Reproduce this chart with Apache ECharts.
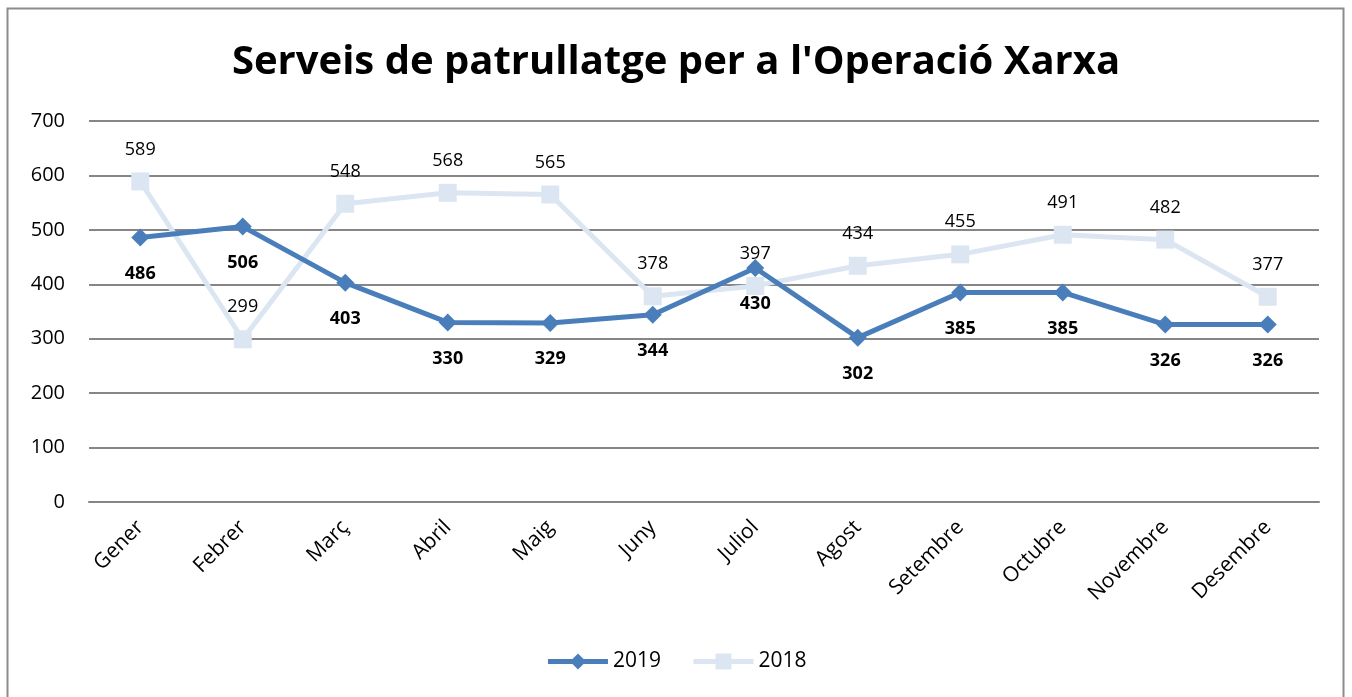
<!DOCTYPE html>
<html>
<head>
<meta charset="utf-8">
<script src="https://cdn.jsdelivr.net/npm/echarts@6/dist/echarts.min.js"></script>
<style>
  html, body { margin: 0; padding: 0; background: #fff; }
  #chart { width: 1352px; height: 697px; }
</style>
</head>
<body>
<div id="chart"></div>
<script>
// Serveis de patrullatge — 2019 vs 2018
const months = ['Gener', 'Febrer', 'Març', 'Abril', 'Maig', 'Juny', 'Juliol',
  'Agost', 'Setembre', 'Octubre', 'Novembre', 'Desembre'];
const serie2019 = [486, 506, 403, 330, 329, 344, 430, 302, 385, 385, 326, 326];
const serie2018 = [589, 299, 548, 568, 565, 378, 397, 434, 455, 491, 482, 377];

const font = '"Open Sans", "Noto Sans", sans-serif';

const chart = echarts.init(document.getElementById('chart'));
chart.setOption({
  animation: false,
  backgroundColor: '#fff',
  textStyle: { fontFamily: font },
  graphic: [{
    type: 'rect',
    shape: { x: 7.5, y: 8.5, width: 1336, height: 700 },
    style: { fill: 'none', stroke: '#8c8c8c', lineWidth: 2 },
    silent: true,
  }],
  title: {
    text: "Serveis de patrullatge per a l'Operació Xarxa",
    left: 'center',
    top: 38,
    textStyle: { fontSize: 40, fontWeight: 'bold', color: '#000', fontFamily: font },
  },
  legend: {
    bottom: 20,
    left: 'center',
    itemWidth: 60,
    itemHeight: 20,
    itemGap: 30,
    lineStyle: { width: 5 },
    textStyle: { fontSize: 21, color: '#000' },
    data: ['2019', '2018'],
  },
  grid: { left: 89, right: 33, top: 121, bottom: 195, containLabel: false },
  xAxis: {
    type: 'category',
    data: months,
    boundaryGap: true,
    axisLine: { show: true, lineStyle: { color: '#868686', width: 2 } },
    axisTick: { show: false },
    axisLabel: { rotate: 45, fontSize: 21, color: '#000', margin: 22 },
  },
  yAxis: {
    type: 'value',
    min: 0,
    max: 700,
    interval: 100,
    axisLine: { show: false },
    axisTick: { show: false },
    axisLabel: { fontSize: 20, color: '#000', margin: 24 },
    splitLine: { lineStyle: { color: '#868686', width: 2 } },
  },
  series: [
    {
      name: '2019',
      type: 'line',
      data: serie2019,
      symbol: 'diamond',
      symbolSize: 18,
      z: 3,
      lineStyle: { color: '#4a7ebb', width: 5 },
      itemStyle: { color: '#4a7ebb' },
      label: {
        show: true, position: 'bottom', distance: 18,
        fontSize: 18, fontWeight: 'bold', color: '#000',
      },
    },
    {
      name: '2018',
      type: 'line',
      data: serie2018,
      symbol: 'rect',
      symbolSize: 18,
      z: 2,
      lineStyle: { color: '#dce6f2', width: 5 },
      itemStyle: { color: '#dce6f2' },
      label: {
        show: true, position: 'top', distance: 14,
        fontSize: 18, color: '#000',
      },
    },
  ],
});
</script>
</body>
</html>
